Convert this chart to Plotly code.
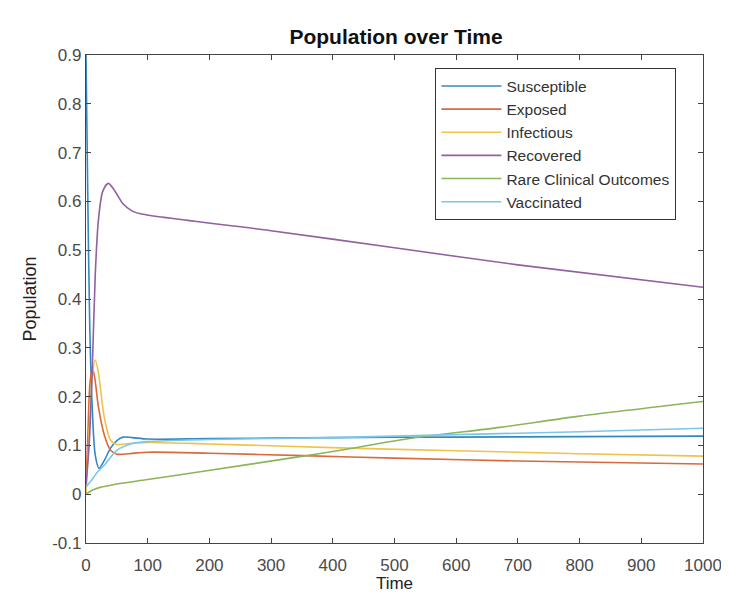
import plotly.graph_objects as go

# ---- data ----
t_sus = [0, 3, 6, 10, 15, 21, 30, 40, 50, 60, 75, 100, 200, 400, 600, 800, 1000]
susceptible = [0.9, 0.6, 0.35, 0.18, 0.08, 0.053, 0.07, 0.095, 0.11, 0.117, 0.116, 0.113, 0.114, 0.116, 0.117, 0.118, 0.119]

t_exp = [0, 3, 6, 10, 14, 20, 30, 40, 50, 70, 100, 200, 352, 500, 700, 1000]
exposed = [0.02, 0.12, 0.22, 0.26, 0.24, 0.18, 0.12, 0.09, 0.082, 0.083, 0.086, 0.084, 0.079, 0.074, 0.068, 0.062]

t_inf = [0, 5, 10, 15, 20, 25, 30, 40, 50, 70, 100, 200, 412, 600, 800, 1000]
infectious = [0.0, 0.12, 0.24, 0.275, 0.25, 0.2, 0.155, 0.11, 0.102, 0.104, 0.106, 0.103, 0.095, 0.089, 0.083, 0.078]

t_rec = [0, 5, 10, 15, 20, 27, 36, 45, 60, 75, 90, 300, 500, 700, 1000]
recovered = [0.02, 0.1, 0.25, 0.45, 0.56, 0.62, 0.637, 0.625, 0.595, 0.58, 0.574, 0.54, 0.505, 0.47, 0.424]

t_rare = [0, 10, 20, 50, 100, 185, 352, 412, 530, 671, 800, 1000]
rare = [0.0, 0.008, 0.013, 0.021, 0.03, 0.046, 0.078, 0.09, 0.115, 0.137, 0.16, 0.19]

t_vac = [0, 10, 17, 30, 50, 75, 100, 200, 400, 600, 800, 1000]
vaccinated = [0.015, 0.03, 0.043, 0.06, 0.09, 0.104, 0.108, 0.112, 0.116, 0.122, 0.128, 0.135]

x_ticks = [0, 100, 200, 300, 400, 500, 600, 700, 800, 900, 1000]
y_ticks = [-0.1, 0, 0.1, 0.2, 0.3, 0.4, 0.5, 0.6, 0.7, 0.8, 0.9]
y_tick_labels = ["-0.1", "0", "0.1", "0.2", "0.3", "0.4", "0.5", "0.6", "0.7", "0.8", "0.9"]

series = [
    ("Susceptible", t_sus, susceptible, "#3388c2"),
    ("Exposed", t_exp, exposed, "#d96a3d"),
    ("Infectious", t_inf, infectious, "#efc24a"),
    ("Recovered", t_rec, recovered, "#9060a0"),
    ("Rare Clinical Outcomes", t_rare, rare, "#8ab558"),
    ("Vaccinated", t_vac, vaccinated, "#7cc6ea"),
]

fig = go.Figure()
for name, xs, ys, col in series:
    fig.add_trace(go.Scatter(
        x=xs, y=ys, name=name, mode="lines",
        line=dict(color=col, width=1.6, shape="spline", smoothing=0.8),
    ))

font_family = "Liberation Sans, Arial, Helvetica, sans-serif"
axis_common = dict(
    showline=True, linecolor="#444444", linewidth=1.2, mirror="ticks",
    ticks="inside", ticklen=5, tickcolor="#444444",
    showgrid=False, zeroline=False, automargin=False,
    tickfont=dict(family=font_family, size=17, color="#4a4a4a"),
)

fig.update_layout(
    width=729, height=592,
    paper_bgcolor="white", plot_bgcolor="white",
    margin=dict(l=78, r=34, t=47, b=57),
    title=dict(text="<b>Population over Time</b>", x=388 / 729, xanchor="center",
               y=1 - 29 / 592, yanchor="middle",
               font=dict(family=font_family, size=21, color="#111111")),
    xaxis=dict(range=[0, 1000], tickvals=x_ticks, ticklabelstandoff=6, **axis_common,
               title=dict(text="Time", standoff=1,
                          font=dict(family=font_family, size=17, color="#222222"))),
    yaxis=dict(range=[-0.1, 0.9], tickvals=y_ticks, ticktext=y_tick_labels, **axis_common,
               title=dict(text="Population", standoff=10,
                          font=dict(family=font_family, size=18, color="#222222"))),
    legend=dict(x=0.566, y=0.973, xanchor="left", yanchor="top",
                bgcolor="white", bordercolor="#333333", borderwidth=1.2,
                font=dict(family=font_family, size=15.5, color="#333333"),
                tracegroupgap=0, itemwidth=60),
    showlegend=True,
)

fig.write_html("out.html")
